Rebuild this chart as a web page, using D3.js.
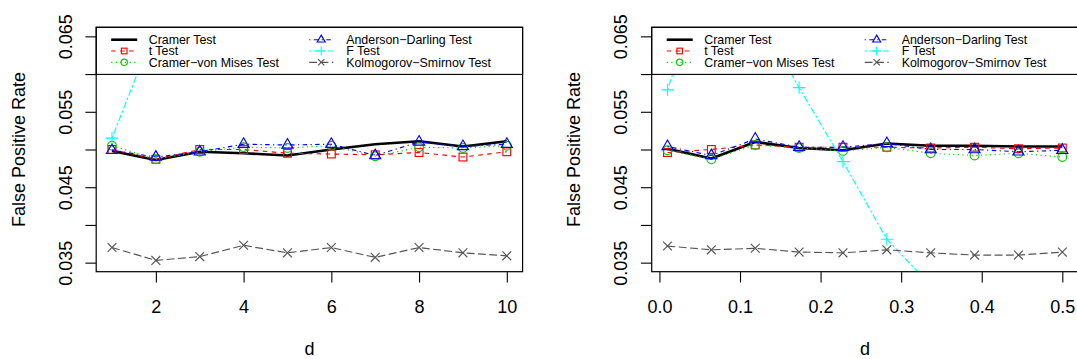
<!DOCTYPE html>
<html>
<head>
<meta charset="utf-8">
<script src="https://cdn.jsdelivr.net/npm/d3@7"></script>
<style>
  html, body { margin: 0; padding: 0; background: #ffffff; }
  svg { display: block; }
  text { font-family: "Liberation Sans", Arial, Helvetica, sans-serif; fill: #000; }
</style>
</head>
<body>
<svg id="chart" width="1077" height="359"></svg>
<script>
// ---- data -------------------------------------------------------------
const testNames = ["Cramer Test", "t Test", "Cramer\u2212von Mises Test",
                   "Anderson\u2212Darling Test", "F Test", "Kolmogorov\u2212Smirnov Test"];

// left panel: d = 1..10
const dLeft   = [1, 2, 3, 4, 5, 6, 7, 8, 9, 10];
const cramerL = [0.0498, 0.0486, 0.0497, 0.0495, 0.0492, 0.0500, 0.0507, 0.0511, 0.0504, 0.0511];
const tTestL  = [0.0500, 0.0487, 0.0500, 0.0500, 0.0495, 0.0494, 0.0493, 0.0496, 0.0490, 0.0497];
const cvmL    = [0.0505, 0.0487, 0.0497, 0.0503, 0.0502, 0.0505, 0.0491, 0.0503, 0.0502, 0.0505];
const adL     = [0.0499, 0.0490, 0.0497, 0.0507, 0.0506, 0.0507, 0.0492, 0.0510, 0.0504, 0.0507];
const fTestL  = [0.0515, 0.0663, 0.0745, 0.0790, 0.0818, 0.0839, 0.0853, 0.0865, 0.0874, 0.0882];
const ksL     = [0.0370, 0.0353, 0.0358, 0.0373, 0.0363, 0.0370, 0.0357, 0.0370, 0.0363, 0.0359];

// right panel: d from 0.01 to 0.5
const dRight  = [0.01, 0.06444, 0.11889, 0.17333, 0.22778, 0.28222, 0.33667, 0.39111, 0.44556, 0.5];
const cramerR = [0.0501, 0.0488, 0.0510, 0.0502, 0.0499, 0.0508, 0.0505, 0.0505, 0.0504, 0.0504];
const tTestR  = [0.0496, 0.0500, 0.0506, 0.0503, 0.0503, 0.0503, 0.0502, 0.0503, 0.0501, 0.0502];
const cvmR    = [0.0499, 0.0487, 0.0506, 0.0502, 0.0498, 0.0503, 0.0495, 0.0492, 0.0495, 0.0490];
const adR     = [0.0504, 0.0492, 0.0514, 0.0503, 0.0503, 0.0508, 0.0500, 0.0500, 0.0497, 0.0499];
const fTestR  = [0.0579, 0.0754, 0.0683, 0.0582, 0.0484, 0.0381, 0.0320, 0.0285, 0.0262, 0.0248];
const ksR     = [0.0372, 0.0367, 0.0369, 0.0364, 0.0363, 0.0367, 0.0363, 0.0360, 0.0360, 0.0364];

// axes
const yLimits      = [0.035, 0.065];
const yTicks       = [0.035, 0.040, 0.045, 0.050, 0.055, 0.060, 0.065];
const yTickLabels  = ["0.035", "", "0.045", "", "0.055", "", "0.065"];
const xTicksLeft   = [2, 4, 6, 8, 10];
const xLabelsLeft  = ["2", "4", "6", "8", "10"];
const xTicksRight  = [0.0, 0.1, 0.2, 0.3, 0.4, 0.5];
const xLabelsRight = ["0.0", "0.1", "0.2", "0.3", "0.4", "0.5"];
const yTitle = "False Positive Rate";
const xTitle = "d";

// ---- styles -----------------------------------------------------------
const lineStyles = [
  { color: "#000000", width: 2.6,  dash: null,                marker: null },
  { color: "#ff0000", width: 1.15, dash: "4.5,4.5",           marker: "square" },
  { color: "#00cd00", width: 1.15, dash: "1.2,3.4",           marker: "circle" },
  { color: "#0000ff", width: 1.15, dash: "1.2,3.4,4.5,3.4",   marker: "triangle" },
  { color: "#00ffff", width: 1.15, dash: "2.3,2.3,6.8,2.3",   marker: "plus" },
  { color: "#555555", width: 1.15, dash: "7.9,3.4",           marker: "cross" }
];

const plotTop = 27.3, plotBottom = 271.7;
const panels = [
  { id: "L", left: 96.2,  right: 522.6,  d: dLeft,
    series: [cramerL, tTestL, cvmL, adL, fTestL, ksL],
    xTicks: xTicksLeft, xLabels: xLabelsLeft },
  { id: "R", left: 651.7, right: 1078.1, d: dRight,
    series: [cramerR, tTestR, cvmR, adR, fTestR, ksR],
    xTicks: xTicksRight, xLabels: xLabelsRight }
];

const svg = d3.select("#chart");
const axisFont = 18, legendFont = 12.4, tickLen = 10.8;

// extend a range by 4% on each side
function padded(lo, hi) { const r = hi - lo; return [lo - 0.04 * r, hi + 0.04 * r]; }

// point symbols
function drawMarker(g, kind, cx, cy, s, color) {
  const sw = 1.15;
  if (kind === "square") {
    const h = 3.9 * s;
    g.append("rect").attr("x", cx - h).attr("y", cy - h).attr("width", 2 * h).attr("height", 2 * h)
      .attr("fill", "none").attr("stroke", color).attr("stroke-width", sw);
  } else if (kind === "circle") {
    g.append("circle").attr("cx", cx).attr("cy", cy).attr("r", 4.4 * s)
      .attr("fill", "none").attr("stroke", color).attr("stroke-width", sw);
  } else if (kind === "triangle") {
    const r = 6.4 * s, xc = 5.55 * s, yc = 3.2 * s;
    g.append("path").attr("d", `M${cx},${cy - r}L${cx + xc},${cy + yc}L${cx - xc},${cy + yc}Z`)
      .attr("fill", "none").attr("stroke", color).attr("stroke-width", sw);
  } else if (kind === "plus") {
    const a = 6.2 * s;
    g.append("path").attr("d", `M${cx - a},${cy}L${cx + a},${cy}M${cx},${cy - a}L${cx},${cy + a}`)
      .attr("stroke", color).attr("stroke-width", sw);
  } else if (kind === "cross") {
    const a = 4.4 * s;
    g.append("path").attr("d", `M${cx - a},${cy - a}L${cx + a},${cy + a}M${cx - a},${cy + a}L${cx + a},${cy - a}`)
      .attr("stroke", color).attr("stroke-width", sw);
  }
}

panels.forEach(p => {
  const x = d3.scaleLinear().domain(padded(d3.min(p.d), d3.max(p.d))).range([p.left, p.right]);
  const y = d3.scaleLinear().domain(padded(yLimits[0], yLimits[1])).range([plotBottom, plotTop]);

  const g = svg.append("g");

  // clip to the plotting region
  const clipId = "clip" + p.id;
  svg.append("clipPath").attr("id", clipId).append("rect")
    .attr("x", p.left).attr("y", plotTop).attr("width", p.right - p.left).attr("height", plotBottom - plotTop);

  const plotArea = g.append("g").attr("clip-path", `url(#${clipId})`);

  // series lines and points
  p.series.forEach((vals, i) => {
    const st = lineStyles[i];
    const pts = p.d.map((dv, k) => ({ x: dv, y: vals[k] }));
    const line = d3.line().x(d => x(d.x)).y(d => y(d.y));
    plotArea.append("path").datum(pts).attr("d", line)
      .attr("fill", "none").attr("stroke", st.color).attr("stroke-width", st.width)
      .attr("stroke-dasharray", st.dash).attr("stroke-linejoin", "round");
    if (st.marker) {
      const mg = plotArea.append("g");
      pts.forEach(d => drawMarker(mg, st.marker, x(d.x), y(d.y), 1, st.color));
    }
  });

  // legend box across the top of the plot
  const legTop = plotTop, legBottom = 74.4;
  const leg = g.append("g");
  leg.append("rect").attr("x", p.left).attr("y", legTop)
    .attr("width", p.right - p.left).attr("height", legBottom - legTop)
    .attr("fill", "#ffffff").attr("stroke", "#000").attr("stroke-width", 1.1);
  const rowY = [39.7, 51.0, 62.3];
  const colOff = [{ s0: 15, s1: 41, t: 52.5 }, { s0: 213, s1: 237, t: 250 }];
  testNames.forEach((name, i) => {
    const col = Math.floor(i / 3), row = i % 3, st = lineStyles[i];
    const c = colOff[col], yy = rowY[row];
    leg.append("line").attr("x1", p.left + c.s0).attr("x2", p.left + c.s1)
      .attr("y1", yy).attr("y2", yy)
      .attr("stroke", st.color).attr("stroke-width", st.width).attr("stroke-dasharray", st.dash);
    if (st.marker) drawMarker(leg, st.marker, p.left + (c.s0 + c.s1) / 2, yy, 0.72, st.color);
    leg.append("text").attr("x", p.left + c.t).attr("y", yy + 4.4)
      .attr("font-size", legendFont).text(name);
  });

  // plot frame
  g.append("rect").attr("x", p.left).attr("y", plotTop)
    .attr("width", p.right - p.left).attr("height", plotBottom - plotTop)
    .attr("fill", "none").attr("stroke", "#000").attr("stroke-width", 1.2);

  // x axis
  const xAxis = d3.axisBottom(x).tickValues(p.xTicks)
    .tickFormat((d, i) => p.xLabels[i]).tickSize(tickLen).tickPadding(18);
  const xg = g.append("g").attr("transform", `translate(0,${plotBottom})`).call(xAxis);
  xg.select(".domain").remove();
  xg.selectAll(".tick line").attr("stroke", "#000").attr("stroke-width", 1.1);
  xg.selectAll(".tick text").attr("font-size", axisFont).attr("font-family", null).attr("fill", "#000");

  // y axis, labels parallel to the axis
  const yAxis = d3.axisLeft(y).tickValues(yTicks)
    .tickFormat((d, i) => yTickLabels[i]).tickSize(tickLen);
  const yg = g.append("g").attr("transform", `translate(${p.left},0)`).call(yAxis);
  yg.select(".domain").remove();
  yg.selectAll(".tick line").attr("stroke", "#000").attr("stroke-width", 1.1);
  yg.selectAll(".tick text")
    .attr("font-size", axisFont).attr("font-family", null).attr("fill", "#000")
    .attr("x", 0).attr("y", -24.5).attr("dy", null)
    .attr("text-anchor", "middle").attr("transform", "rotate(-90)");

  // titles
  g.append("text").attr("transform", `translate(${p.left - 71.5},${(plotTop + plotBottom) / 2}) rotate(-90)`)
    .attr("text-anchor", "middle").attr("font-size", axisFont).text(yTitle);
  g.append("text").attr("x", (p.left + p.right) / 2).attr("y", 355)
    .attr("text-anchor", "middle").attr("font-size", axisFont).text(xTitle);
});
</script>
</body>
</html>
